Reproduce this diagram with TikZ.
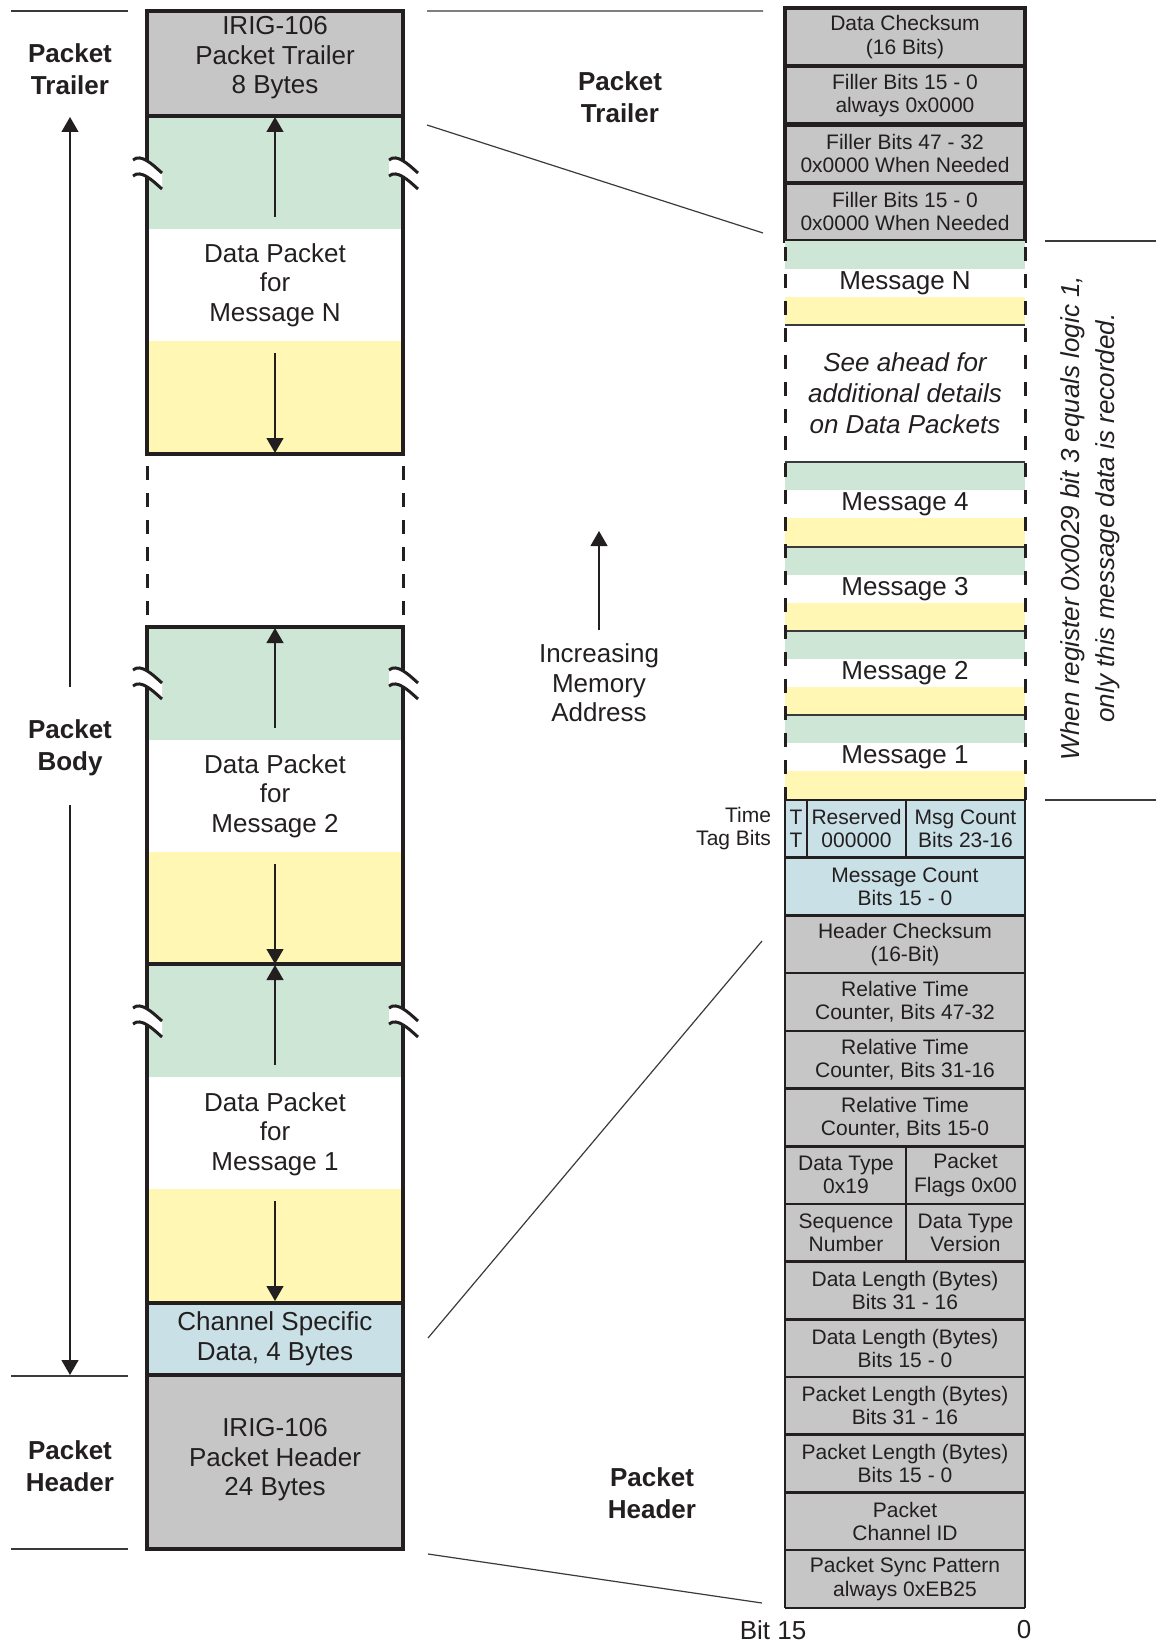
\documentclass[tikz,border=0pt]{standalone}
\usepackage{fontspec}
\setmainfont{Liberation Sans}
\usetikzlibrary{arrows.meta,calc,positioning}
\definecolor{ink}{HTML}{231F20}
\definecolor{wire}{HTML}{3A3A3A}
\definecolor{slate}{HTML}{C6C6C6}
\definecolor{mint}{HTML}{CDE6D6}
\definecolor{butter}{HTML}{FFF7B3}
\definecolor{sky}{HTML}{C9E0E6}
\tikzset{
  big/.style={align=center,text=ink,font=\fontsize{13}{14.8}\selectfont},
  small/.style={align=center,text=ink,font=\fontsize{10.5}{11.6}\selectfont},
  tag/.style={align=center,text=ink,font=\fontsize{13}{16}\selectfont\bfseries},
  heavy/.style={draw=ink,line width=2.2pt},
  cellrule/.style={draw=ink,line width=1.3pt},
  lead/.style={draw=wire,line width=0.6pt},
  gapside/.style={draw=ink,line width=1.5pt,dash pattern=on 7pt off 6.5pt},
  tip/.style={draw=ink,line width=0.6pt,-{Triangle[length=7.5pt,width=8.5pt]}},
}
% break mark across a box edge
\newcommand\brk[2]{%
  \fill[white] (#1-14,#2-13) .. controls (#1-6,#2-20) and (#1+6,#2-8) .. (#1+15,#2) -- (#1+15,#2+16) .. controls (#1+6,#2+8) and (#1-6,#2-4) .. (#1-14,#2+3) -- cycle;
  \draw[ink,line width=1.5pt] (#1-14,#2-13) .. controls (#1-6,#2-20) and (#1+6,#2-8) .. (#1+15,#2)
    (#1-14,#2+3) .. controls (#1-6,#2-4) and (#1+6,#2+8) .. (#1+15,#2+16);}

\begin{document}
\begin{tikzpicture}[x=0.5pt,y=-0.5pt]
\useasboundingbox (0,0) rectangle (1156,1643);

% left column
\fill[slate] (147,11) rectangle (403,116);
\foreach \t in {116,627,964}{
  \fill[mint] (147,\t) rectangle (403,\t+113); \fill[butter] (147,\t+225) rectangle (403,\t+338);
  \draw[tip] (275,\t+101) -- (275,\t+1); \draw[tip] (275,\t+237) -- (275,\t+337);
}
\fill[sky] (147,1303) rectangle (403,1375); \fill[slate] (147,1375) rectangle (403,1549);
\draw[heavy] (147,11) rectangle (403,454) (147,116) -- (403,116);
\draw[heavy] (147,627) rectangle (403,1549) (147,964) -- (403,964) (147,1303) -- (403,1303) (147,1375) -- (403,1375);
\draw[gapside,dash phase=-6pt] (147,454) -- (147,627) (403,454) -- (403,627);
\foreach \y in {173,683,1021}{\brk{147}{\y} \brk{403}{\y}}
\node[big] (trl) at (275,58) {IRIG-106\\Packet Trailer\\8 Bytes};
\node[big] (dpN) at (275,285) {Data Packet\\for\\Message N};
\node[big] (dp2) at (275,796) {Data Packet\\for\\Message 2};
\node[big] (dp1) at (275,1134) {Data Packet\\for\\Message 1};
\node[big] (csd) at (275,1339) {Channel Specific\\Data, 4 Bytes};
\node[big] (phd) at (275,1460) {IRIG-106\\Packet Header\\24 Bytes};

% left labels
\node[tag] (lt) at (70,69) {Packet\\Trailer};
\node[tag] (lb) at (70,748) {Packet\\Body};
\node[tag] (lh) at (70,1466) {Packet\\Header};
\draw[lead] (11,11) -- (128,11) (11,1376) -- (128,1376) (11,1549) -- (128,1549);
\draw[tip] (70,687) -- (70,117); \draw[tip] (70,805) -- (70,1375);

% middle
\node[tag] (mt) at (620,97) {Packet\\Trailer};
\node[tag] (mh) at (652,1493) {Packet\\Header};
\node[big] (inc) at (599,683) {Increasing\\Memory\\Address};
\draw[tip] (599,630) -- (599,531);

% right column: trailer words
\foreach \i/\w in {0/{Data Checksum\\(16 Bits)},1/{Filler Bits 15 - 0\\always 0x0000},2/{Filler Bits 47 - 32\\0x0000 When Needed},3/{Filler Bits 15 - 0\\0x0000 When Needed}}{
  \draw[heavy,fill=slate] (785,8+58.25*\i) rectangle (1025,66.25+58.25*\i);
  \node[small] (tw\i) at (905,37.1+58.25*\i) {\w};
}
% right column: messages
\foreach \t/\m in {241/N,462/4,547/3,631/2,715/1}{
  \fill[mint] (785,\t) rectangle (1025,\t+28); \fill[butter] (785,\t+56) rectangle (1025,\t+84);
  \node[big] (msg\m) at (905,\t+42) {Message \m};
}
\foreach \y in {325,462,547,631,715} \draw[draw=wire,line width=0.9pt] (785,\y) -- (1025,\y);
\node[big,font=\fontsize{13}{15.5}\selectfont\itshape] (ahead) at (905,393) {See ahead for\\additional details\\on Data Packets};
\draw[gapside,dash phase=-3pt] (785,241) -- (785,800) (1025,241) -- (1025,800);

% right column: header words
\fill[sky] (785,800) rectangle (1025,915.4); \fill[slate] (785,915.4) rectangle (1025,1607.8);
\foreach \k in {0,...,14} \draw[cellrule] (785,800+57.7*\k) -- (1025,800+57.7*\k);
\draw[cellrule] (785,800) -- (785,1607.8) (1025,800) -- (1025,1607.8) (807,800) -- (807,857.7) (906,800) -- (906,857.7) (906,1146.2) -- (906,1261.6);
\node[small] (tt) at (796,828.85) {T\\T};
\node[small] (rsv) at (856.5,828.85) {Reserved\\000000};
\node[small] (mch) at (965.5,828.85) {Msg Count\\Bits 23-16};
\foreach \k/\w in {1/{Message Count\\Bits 15 - 0},2/{Header Checksum\\(16-Bit)},3/{Relative Time\\Counter, Bits 47-32},4/{Relative Time\\Counter, Bits 31-16},5/{Relative Time\\Counter, Bits 15-0},8/{Data Length (Bytes)\\Bits 31 - 16},9/{Data Length (Bytes)\\Bits 15 - 0},10/{Packet Length (Bytes)\\Bits 31 - 16},11/{Packet Length (Bytes)\\Bits 15 - 0},12/{Packet\\Channel ID},13/{Packet Sync Pattern\\always 0xEB25}}
  \node[small] (hw\k) at (905,828.85+57.7*\k) {\w};
\node[small] (dtp) at (846,1175) {Data Type\\0x19};
\node[small] (flg) at (965.5,1175) {Packet\\Flags 0x00};
\node[small] (seq) at (846,1232.7) {Sequence\\Number};
\node[small] (ver) at (965.5,1232.7) {Data Type\\Version};
\node[small,align=right,anchor=east] (ttb) at (778,828.85) {Time\\Tag Bits};
\node[big] (b15) at (773,1630) {Bit 15};
\node[big] (b0) at (1024,1630) {0};

% note on the message range
\draw[lead] (1045,241) -- (1156,241) (1045,800) -- (1156,800);
\node[big,font=\fontsize{13}{17.5}\selectfont\itshape,rotate=90] (note) at (1090,518) {When register 0x0029 bit 3 equals logic 1,\\only this message data is recorded.};

% zoom lines between the two views
\coordinate (ta) at (427,11); \coordinate (tb) at (763,11);
\coordinate (ua) at (427,125); \coordinate (ub) at (763,233);
\coordinate (ha) at (428,1338); \coordinate (hb) at (762,941);
\coordinate (la) at (428,1554); \coordinate (lb2) at (762,1603);
\draw[lead] (ta) -- (tb) (ua) -- (ub) (ha) -- (hb) (la) -- (lb2);
\end{tikzpicture}
\end{document}
